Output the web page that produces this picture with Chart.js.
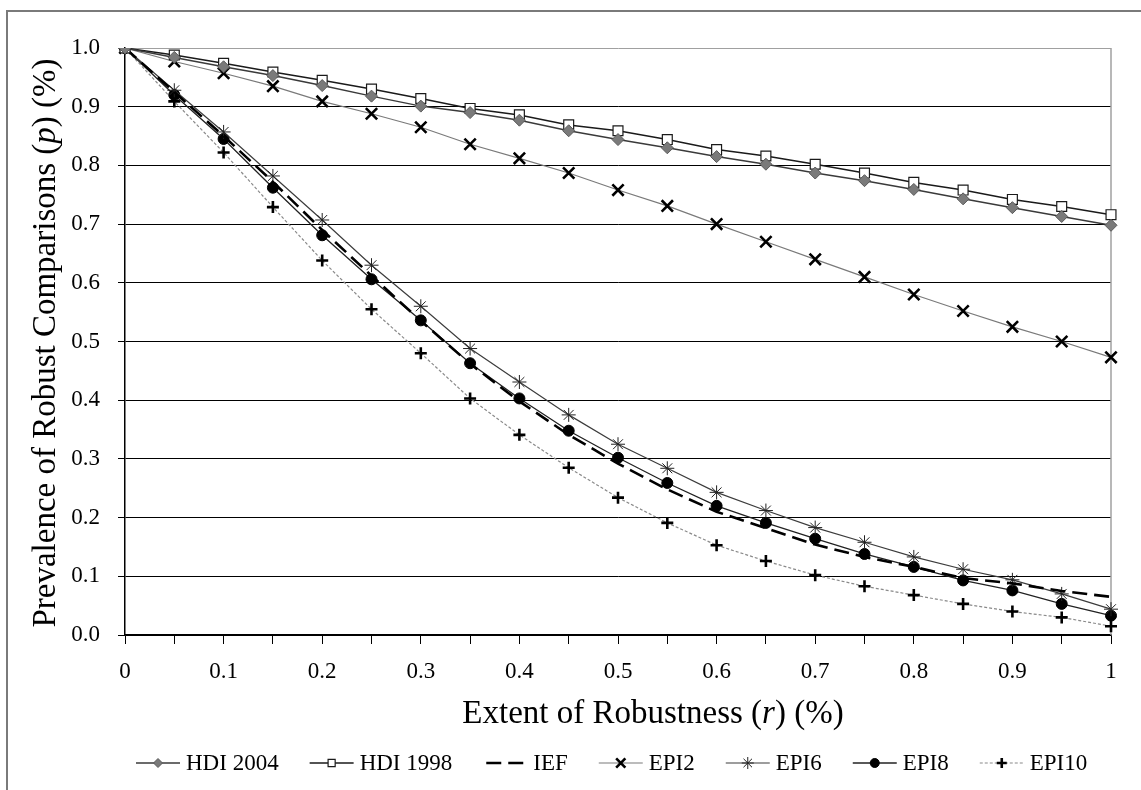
<!DOCTYPE html>
<html><head><meta charset="utf-8">
<script src="https://cdn.jsdelivr.net/npm/chart.js@4/dist/chart.umd.min.js"></script>
<style>
html,body{margin:0;padding:0;background:#fff;overflow:hidden;width:1141px;height:790px;}
#frame{position:absolute;left:6px;top:10px;width:1300px;height:900px;border:2px solid #7a7a7a;}
#c{position:absolute;left:0;top:0;}
</style></head><body>
<div id="frame"></div>
<canvas id="c" width="1141" height="790"></canvas>
<script>
// Categories: extent of robustness r
const rValues = ['0','0.05','0.1','0.15','0.2','0.25','0.3','0.35','0.4','0.45','0.5','0.55','0.6','0.65','0.7','0.75','0.8','0.85','0.9','0.95','1'];
const xTickLabels = ['0','0.1','0.2','0.3','0.4','0.5','0.6','0.7','0.8','0.9','1'];
const seriesNames = ['HDI 2004','HDI 1998','IEF','EPI2','EPI6','EPI8','EPI10'];

const hdi2004 = [1.0,0.984,0.968,0.953,0.936,0.918,0.901,0.890,0.877,0.859,0.844,0.830,0.815,0.802,0.787,0.774,0.759,0.743,0.728,0.713,0.698];
const hdi1998 = [1.0,0.988,0.974,0.959,0.945,0.930,0.914,0.897,0.886,0.869,0.859,0.844,0.827,0.816,0.802,0.787,0.771,0.758,0.742,0.730,0.716];
const ief     = [1.0,0.925,0.850,0.772,0.690,0.612,0.535,0.462,0.398,0.341,0.292,0.248,0.210,0.182,0.154,0.133,0.116,0.097,0.088,0.075,0.065];
const epi2    = [1.0,0.977,0.957,0.935,0.909,0.888,0.865,0.836,0.812,0.787,0.758,0.731,0.700,0.670,0.640,0.610,0.580,0.552,0.525,0.500,0.473];
const epi6    = [1.0,0.928,0.857,0.782,0.707,0.630,0.560,0.488,0.431,0.375,0.325,0.284,0.243,0.212,0.183,0.158,0.133,0.112,0.094,0.070,0.044];
const epi8    = [1.0,0.920,0.845,0.762,0.681,0.606,0.536,0.463,0.403,0.348,0.302,0.259,0.220,0.191,0.164,0.138,0.116,0.093,0.076,0.053,0.033];
const epi10   = [1.0,0.909,0.822,0.729,0.638,0.555,0.480,0.403,0.341,0.285,0.234,0.191,0.153,0.126,0.102,0.083,0.068,0.053,0.040,0.030,0.015];

const FONT = "'Liberation Serif','Times New Roman',serif";

const styles = [
  {data:hdi2004, borderColor:'#3a3a3a', borderWidth:1.5, borderDash:[], pointStyle:'rectRot', pointRadius:6, pointBackgroundColor:'#7a7a7a', pointBorderColor:'#5a5a5a', pointBorderWidth:1, legendRadius:4.5},
  {data:hdi1998, borderColor:'#1a1a1a', borderWidth:1.5, borderDash:[], pointStyle:'rect', pointRadius:7, pointBackgroundColor:'#ffffff', pointBorderColor:'#1a1a1a', pointBorderWidth:1.2, legendRadius:5},
  {data:ief, borderColor:'#000000', borderWidth:2.6, borderDash:[15,7], pointStyle:false, pointRadius:0, pointBackgroundColor:'#000', pointBorderColor:'#000', pointBorderWidth:0, legendRadius:0},
  {data:epi2, borderColor:'#7a7a7a', borderWidth:1.2, borderDash:[], pointStyle:'crossRot', pointRadius:8, pointBackgroundColor:'#000', pointBorderColor:'#000', pointBorderWidth:2.6, legendRadius:6.5},
  {data:epi6, borderColor:'#3c3c3c', borderWidth:1.2, borderDash:[], pointStyle:'star', pointRadius:7, pointBackgroundColor:'#222', pointBorderColor:'#222', pointBorderWidth:1, legendRadius:6},
  {data:epi8, borderColor:'#222222', borderWidth:1.3, borderDash:[], pointStyle:'circle', pointRadius:5.5, pointBackgroundColor:'#000', pointBorderColor:'#000', pointBorderWidth:1, legendRadius:4.5},
  {data:epi10, borderColor:'#8a8a8a', borderWidth:1.2, borderDash:[3,2], pointStyle:'cross', pointRadius:6, pointBackgroundColor:'#000', pointBorderColor:'#000', pointBorderWidth:2.6, legendRadius:5}
];

const datasets = styles.map((s,i)=>Object.assign({label:seriesNames[i], tension:0, fill:false, pointHoverRadius:s.pointRadius}, s));

function drawRich(ctx, parts, x, y, align){
  let total = 0;
  parts.forEach(p=>{ctx.font=p.font; p.w=ctx.measureText(p.t).width; total+=p.w;});
  let cx = align==='center' ? x-total/2 : x;
  parts.forEach(p=>{ctx.font=p.font; ctx.fillText(p.t,cx,y); cx+=p.w;});
}

const decor = {
  id:'decor',
  beforeDatasetsDraw(chart){
    const ctx=chart.ctx, a=chart.chartArea;
    ctx.save();
    ctx.strokeStyle='#a0a0a0'; ctx.lineWidth=1.5;
    ctx.beginPath(); ctx.moveTo(a.right, a.top); ctx.lineTo(a.right, a.bottom); ctx.stroke();
    ctx.restore();
  },
  afterDraw(chart){
    const ctx=chart.ctx;
    ctx.save();
    ctx.fillStyle='#000';
    ctx.textBaseline='alphabetic';
    const reg = "33px "+FONT, it = "italic 33px "+FONT;
    // x title
    drawRich(ctx,[{t:'Extent of Robustness (',font:reg},{t:'r',font:it},{t:') (%)',font:reg}],653,723,'center');
    // y title
    ctx.save();
    ctx.translate(55,343); ctx.rotate(-Math.PI/2);
    drawRich(ctx,[{t:'Prevalence of Robust Comparisons (',font:reg},{t:'p',font:it},{t:') (%)',font:reg}],0,0,'center');
    ctx.restore();
    // legend
    let x = 136; const y = 763, sw = 44;
    ctx.font = "23px "+FONT;
    ctx.textBaseline='middle';
    chart.data.datasets.forEach(ds=>{
      ctx.save();
      ctx.strokeStyle=ds.borderColor; ctx.lineWidth=ds.borderWidth;
      ctx.setLineDash(ds.borderDash||[]);
      ctx.beginPath();
      if (ds.pointStyle===false){ ctx.moveTo(x+3,y); ctx.lineTo(x+sw-3,y); }
      else { ctx.moveTo(x,y); ctx.lineTo(x+sw,y); }
      ctx.stroke();
      ctx.setLineDash([]);
      if (ds.pointStyle){
        ctx.fillStyle=ds.pointBackgroundColor; ctx.strokeStyle=ds.pointBorderColor; ctx.lineWidth=ds.pointBorderWidth;
        Chart.helpers.drawPoint(ctx,{pointStyle:ds.pointStyle,radius:ds.legendRadius,rotation:0,borderWidth:ds.pointBorderWidth},x+sw/2,y);
      }
      ctx.restore();
      ctx.fillStyle='#000';
      ctx.fillText(ds.label, x+50, y+1);
      x += 50 + ctx.measureText(ds.label).width + 31;
    });
    ctx.restore();
  }
};

new Chart(document.getElementById('c'),{
  type:'line',
  data:{labels:rValues, datasets},
  options:{
    responsive:false, animation:false, devicePixelRatio:1, events:[],
    layout:{padding:{top:48,left:0,right:30,bottom:0}},
    plugins:{legend:{display:false}, tooltip:{enabled:false}},
    scales:{
      x:{
        type:'category', offset:false,
        afterFit(s){ s.height = 155; },
        grid:{drawOnChartArea:false, drawTicks:true, tickLength:9, color:'#000', lineWidth:1},
        border:{color:'#000', width:1.5},
        ticks:{autoSkip:false, maxRotation:0, minRotation:0, padding:14, color:'#000', font:{family:FONT,size:23},
          callback:(v,i)=> i%2===0 ? xTickLabels[i/2] : ''}
      },
      y:{
        min:0, max:1,
        afterFit(s){ s.width = 125; },
        grid:{color:(c)=> (c.tick && c.tick.value>=0.999) ? '#a0a0a0' : '#000', lineWidth:1, tickLength:7, drawTicks:true},
        border:{color:'#000', width:1.5},
        ticks:{stepSize:0.1, padding:18, color:'#000', font:{family:FONT,size:23}, callback:(v)=>Number(v).toFixed(1)}
      }
    }
  },
  plugins:[decor]
});
</script>
</body></html>
